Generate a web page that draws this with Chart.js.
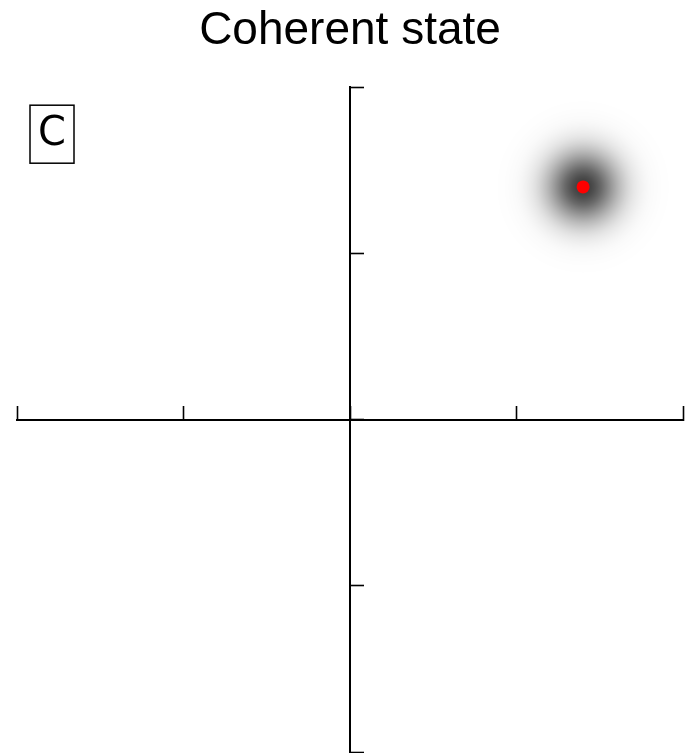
<!DOCTYPE html>
<html>
<head>
<meta charset="utf-8">
<script src="https://cdn.jsdelivr.net/npm/chart.js@4.4.1/dist/chart.umd.min.js"></script>
<style>
    html, body { margin: 0; padding: 0; background: #fff; }
    #wrap { width: 692px; height: 753px; }
</style>
</head>
<body>
<div id="wrap"><canvas id="coherentChart"></canvas></div>
<script>
// chart data
var titleText = 'Coherent state';
var panelLabel = 'C';
var xTicks = [-2, -1, 0, 1, 2];
var yTicks = [-2, -1, 0, 1, 2];
var stateCenter = [1.4, 1.4];   // alpha in phase space (x, p)
var stateSigma = 0.15;          // gaussian width, data units

document.addEventListener('DOMContentLoaded', function () {
    var ctx = document.getElementById('coherentChart').getContext('2d');

    // soft gaussian cloud behind the centre point
    var gaussianPlugin = {
        id: 'gaussianCloud',
        beforeDatasetsDraw: function (chart) {
            var xs = chart.scales.x, ys = chart.scales.y;
            var cx = xs.getPixelForValue(stateCenter[0]);
            var cy = ys.getPixelForValue(stateCenter[1]);
            var s = Math.abs(xs.getPixelForValue(stateCenter[0] + stateSigma) - cx);
            var rMax = s * 3.5;
            var c = chart.ctx;
            var grad = c.createRadialGradient(cx, cy, 0, cx, cy, rMax);
            for (var i = 0; i <= 24; i++) {
                var t = i / 24;
                var r = t * rMax;
                var a = 0.76 * Math.exp(-(r * r) / (2 * s * s));
                grad.addColorStop(t, 'rgba(0,0,0,' + a.toFixed(4) + ')');
            }
            c.save();
            c.fillStyle = grad;
            c.beginPath();
            c.arc(cx, cy, rMax, 0, Math.PI * 2);
            c.fill();
            c.restore();
        }
    };

    // boxed panel letter in the top-left corner
    var panelLabelPlugin = {
        id: 'panelLabel',
        afterDraw: function (chart) {
            var area = chart.chartArea;
            var c = chart.ctx;
            var bx = area.left + 13, by = area.top + 18;
            c.save();
            c.strokeStyle = '#000';
            c.lineWidth = 1.5;
            c.strokeRect(bx, by, 44, 58);
            c.fillStyle = '#000';
            c.font = '40px "DejaVu Sans"';
            c.textAlign = 'center';
            c.textBaseline = 'middle';
            c.fillText(panelLabel, bx + 22, by + 29);
            c.restore();
        }
    };

    function axisOptions(ticks, pos) {
        return {
            type: 'linear',
            position: pos,
            min: ticks[0],
            max: ticks[ticks.length - 1],
            afterBuildTicks: function (scale) {
                scale.ticks = ticks.map(function (v) { return { value: v }; });
            },
            ticks: { display: false },
            grid: {
                drawOnChartArea: false,
                drawTicks: true,
                tickLength: -15,
                tickWidth: 1.6,
                tickColor: '#000'
            },
            border: { display: true, color: '#000', width: 2 }
        };
    }

    new Chart(ctx, {
        type: 'scatter',
        data: {
            datasets: [{
                label: 'state',
                data: [{ x: stateCenter[0], y: stateCenter[1] }],
                backgroundColor: '#ff0000',
                borderWidth: 0,
                pointRadius: 6.5,
                pointHoverRadius: 6.5
            }]
        },
        options: {
            responsive: true,
            maintainAspectRatio: false,
            animation: false,
            layout: { autoPadding: false, padding: { left: 17, right: 9, top: 0, bottom: 1 } },
            plugins: {
                legend: { display: false },
                tooltip: { enabled: false },
                title: {
                    display: true,
                    text: titleText,
                    color: '#000',
                    font: { family: '"Liberation Sans", Arial, sans-serif', size: 46, weight: 'normal', lineHeight: 1.2 },
                    padding: { top: 4, bottom: 28 }
                }
            },
            scales: {
                x: axisOptions(xTicks, { y: 0 }),
                y: axisOptions(yTicks, { x: 0 })
            }
        },
        plugins: [gaussianPlugin, panelLabelPlugin]
    });
});
</script>
</body>
</html>
